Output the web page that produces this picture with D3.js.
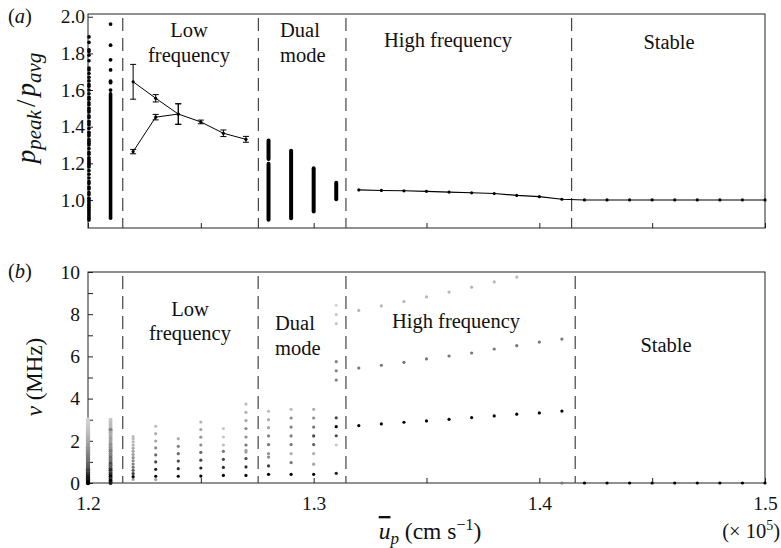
<!DOCTYPE html>
<html lang="en">
<head>
<meta charset="UTF-8">
<title>Peak pressure ratio and frequency regimes</title>
<script src="https://d3js.org/d3.v7.min.js"></script>
</head>
<body style="margin:0; background:#fff;">
<div id="chart"></div>
<script>
// x axis: mean velocity (x 10^5 cm/s)
var xTicks = [1.2, 1.25, 1.3, 1.35, 1.4, 1.45, 1.5];
var xLabels = [1.2, 1.3, 1.4, 1.5];
var boundsA = [1.2154, 1.2755, 1.3143, 1.4143];
var boundsB = [1.2154, 1.2754, 1.3143, 1.4159];

// ---- panel (a): p_peak / p_avg ----
var yTicksA = [1.0, 1.2, 1.4, 1.6, 1.8, 2.0];
var scatter120 = [0.89, 0.90, 0.91, 0.92, 0.93, 0.94, 0.95, 0.96, 0.97, 0.98, 0.99, 1.00, 1.01, 1.03, 1.04,
  1.06, 1.07, 1.09, 1.10, 1.12, 1.14, 1.16, 1.18, 1.19, 1.20, 1.21, 1.22, 1.23, 1.25, 1.26, 1.28,
  1.30, 1.31, 1.32, 1.33, 1.35, 1.36, 1.37, 1.39, 1.41, 1.42, 1.43, 1.45, 1.46, 1.48, 1.49, 1.50,
  1.52, 1.53, 1.55, 1.56, 1.58, 1.60, 1.62, 1.63, 1.65, 1.67, 1.69, 1.71, 1.72, 1.76, 1.79, 1.81,
  1.82, 1.86, 1.89];
var sparse121 = [1.96, 1.845, 1.765, 1.71, 1.648, 1.64, 1.60];
// dense sample bands: [x, low, high]
var bandsA = [[1.21, 0.90, 1.58], [1.28, 0.892, 1.197], [1.28, 1.224, 1.325],
  [1.29, 0.90, 1.268], [1.30, 0.937, 1.173], [1.31, 1.004, 1.094]];
var upperX = [1.22, 1.23, 1.24, 1.25, 1.26, 1.27];
var upperY = [1.645, 1.555, 1.469, 1.426, 1.364, 1.331];
var upperErr = [0.095, 0.02, 0.056, 0.01, 0.018, 0.016];
var lowerX = [1.22, 1.23, 1.24];
var lowerY = [1.264, 1.452, 1.469];
var lowerErr = [0.012, 0.015, 0.056];
var highX = [1.32, 1.33, 1.34, 1.35, 1.36, 1.37, 1.38, 1.39, 1.40, 1.41,
  1.42, 1.43, 1.44, 1.45, 1.46, 1.47, 1.48, 1.49, 1.50];
var highY = [1.055, 1.052, 1.05, 1.047, 1.043, 1.039, 1.035, 1.025, 1.018, 1.004,
  1.0, 1.0, 1.0, 1.0, 1.0, 1.0, 1.0, 1.0, 1.0];

// ---- panel (b): frequency spectrum peaks, [frequency MHz, darkness 0..1] ----
var yTicksB = [0, 2, 4, 6, 8, 10];
var dense120 = [[0.0, 1], [0.05, 0.95], [0.1, 0.9], [0.15, 0.85], [0.2, 0.95], [0.3, 0.85], [0.4, 0.8],
  [0.5, 0.7], [0.6, 0.72], [0.7, 0.62], [0.8, 0.6], [0.9, 0.58], [1.0, 0.52], [1.1, 0.5], [1.2, 0.48],
  [1.3, 0.45], [1.4, 0.44], [1.5, 0.4], [1.6, 0.38], [1.7, 0.35], [1.8, 0.33], [1.9, 0.3], [2.0, 0.28],
  [2.1, 0.25], [2.2, 0.24], [2.3, 0.2], [2.4, 0.19], [2.5, 0.17], [2.6, 0.15], [2.7, 0.14], [2.8, 0.12],
  [2.9, 0.11], [3.0, 0.1]];
var dense121 = [[0.0, 0.9], [0.1, 1], [0.2, 0.8], [0.3, 1], [0.4, 0.85], [0.5, 0.7], [0.6, 0.85],
  [0.7, 0.65], [0.8, 0.6], [0.9, 0.7], [1.0, 0.55], [1.1, 0.5], [1.2, 0.55], [1.3, 0.45], [1.4, 0.42],
  [1.5, 0.48], [1.6, 0.4], [1.7, 0.36], [1.8, 0.4], [1.9, 0.32], [2.0, 0.3], [2.1, 0.33], [2.2, 0.27],
  [2.3, 0.25], [2.4, 0.28], [2.5, 0.5], [2.6, 0.22], [2.7, 0.2], [2.8, 0.2], [2.9, 0.18], [3.0, 0.15]];
var colX = [1.22, 1.23, 1.24, 1.25, 1.26, 1.27, 1.28, 1.29, 1.30, 1.31];
var colPeaks = [
  [[0.17, 0.3], [0.3, 1], [0.45, 0.75], [0.6, 0.6], [0.75, 0.5], [0.9, 0.45], [1.05, 0.4], [1.2, 0.38],
   [1.35, 0.33], [1.5, 0.3], [1.65, 0.28], [1.8, 0.25], [1.95, 0.22], [2.1, 0.2], [2.2, 0.2]],
  [[0.16, 0.3], [0.32, 1], [0.65, 0.85], [1.0, 0.7], [1.33, 0.55], [1.66, 0.4], [1.99, 0.3], [2.34, 0.25], [2.69, 0.2]],
  [[0.32, 1], [0.68, 0.8], [1.04, 0.7], [1.39, 0.55], [1.74, 0.45], [2.10, 0.25]],
  [[0.33, 1], [0.71, 0.85], [1.08, 0.7], [1.45, 0.55], [1.80, 0.4], [2.17, 0.35], [2.53, 0.3], [2.89, 0.25]],
  [[0.36, 1], [0.74, 0.8], [1.12, 0.7], [1.50, 0.5], [1.80, 0.2], [2.18, 0.15], [2.58, 0.15]],
  [[0.36, 1], [0.76, 0.8], [1.16, 0.7], [1.47, 0.35], [1.55, 0.3], [1.80, 0.5], [2.18, 0.4], [2.58, 0.4],
   [2.96, 0.3], [3.35, 0.25], [3.74, 0.2]],
  [[0.41, 1], [0.81, 0.75], [1.23, 0.4], [1.39, 0.35], [1.82, 0.5], [2.23, 0.45], [2.62, 0.3], [3.0, 0.25], [3.40, 0.2]],
  [[0.41, 1], [0.97, 0.5], [1.39, 0.25], [1.82, 0.5], [2.23, 0.45], [2.65, 0.45], [3.08, 0.4], [3.49, 0.2]],
  [[0.41, 1], [0.89, 0.3], [1.39, 0.25], [1.82, 0.6], [2.23, 0.7], [2.65, 0.5], [3.08, 0.4], [3.49, 0.25]],
  [[0.46, 0.85], [1.80, 0.15], [2.24, 0.7], [2.67, 1], [3.09, 0.7], [4.88, 0.45], [5.32, 0.45], [5.75, 0.45],
   [7.55, 0.15], [7.98, 0.15], [8.42, 0.1]]
];
var hfX = [1.32, 1.33, 1.34, 1.35, 1.36, 1.37, 1.38, 1.39, 1.40, 1.41];
var hfFund = [2.72, 2.80, 2.88, 2.94, 3.02, 3.10, 3.18, 3.26, 3.32, 3.41];
var hfSecond = [5.45, 5.58, 5.72, 5.88, 6.02, 6.16, 6.35, 6.51, 6.68, 6.82];
var hfThird = [8.18, 8.39, 8.60, 8.82, 9.05, 9.28, 9.53, 9.76];
var stableX = [1.41, 1.42, 1.43, 1.44, 1.45, 1.46, 1.47, 1.48, 1.49, 1.50];
var stableT = [0.5, 1, 1, 1, 1, 1, 1, 1, 1, 1];

var W = 781, H = 548;
var SERIF = "'Liberation Serif'";
var svg = d3.select("#chart").append("svg").attr("width", W).attr("height", H)
    .style("font-family", SERIF);

var x = d3.scaleLinear().domain([1.2, 1.5]).range([88, 765]);
var ya = d3.scaleLinear().domain([0.847, 2.015]).range([228, 14]);
var yb = d3.scaleLinear().domain([0, 10]).range([483, 272]);
var grey = d3.interpolateRgb("#ebebeb", "#000");

// every text gets the face set directly on it
function txt(parent) {
    return parent.append("text").style("font-family", SERIF).attr("fill", "#111");
}

function frame(y, bounds, dashOffset) {
    var g = svg.append("g");
    g.append("rect")
        .attr("x", x.range()[0]).attr("y", y.range()[1])
        .attr("width", x.range()[1] - x.range()[0])
        .attr("height", y.range()[0] - y.range()[1])
        .attr("fill", "none").attr("stroke", "#222").attr("stroke-width", 1);
    g.selectAll("line.bound").data(bounds).enter().append("line")
        .attr("class", "bound")
        .attr("x1", d => x(d)).attr("x2", d => x(d))
        .attr("y1", y.range()[1]).attr("y2", y.range()[0])
        .attr("stroke", "#444").attr("stroke-width", 1.2)
        .attr("stroke-dasharray", "13,7").attr("stroke-dashoffset", dashOffset);
    return g;
}

function plainAxis(g) {
    g.attr("font-family", null).attr("font-size", null);
    g.select(".domain").remove();
    g.selectAll(".tick line").attr("stroke", "#222");
    g.selectAll(".tick text").style("font-family", SERIF).style("font-size", "19.5px").attr("fill", "#111");
}

// ----- panel (a) -----
var ga = frame(ya, boundsA, -4);

ga.append("g").attr("transform", "translate(0,228)")
    .call(d3.axisBottom(x).tickValues(xTicks).tickSize(-5).tickFormat(""))
    .call(plainAxis);
ga.append("g").attr("transform", "translate(88,0)")
    .call(d3.axisLeft(ya).tickValues(yTicksA).tickSize(-5).tickPadding(3).tickFormat(d3.format(".1f")))
    .call(plainAxis);

ga.selectAll("circle.s120").data(scatter120).enter().append("circle")
    .attr("cx", x(1.2) + 1).attr("cy", d => ya(d)).attr("r", 1.8).attr("fill", "#000");
ga.selectAll("circle.s121").data(sparse121).enter().append("circle")
    .attr("cx", x(1.21)).attr("cy", d => ya(d)).attr("r", 1.9).attr("fill", "#000");
ga.selectAll("line.band").data(bandsA).enter().append("line")
    .attr("x1", d => x(d[0])).attr("x2", d => x(d[0]))
    .attr("y1", d => ya(d[1])).attr("y2", d => ya(d[2]))
    .attr("stroke", "#000").attr("stroke-width", d => d[0] === 1.21 ? 3.6 : 4)
    .attr("stroke-linecap", "round");

function errSeries(xs, ys, es) {
    var pts = xs.map((v, i) => ({x: v, y: ys[i], e: es[i]}));
    ga.append("path").datum(pts)
        .attr("d", d3.line().x(d => x(d.x)).y(d => ya(d.y)))
        .attr("fill", "none").attr("stroke", "#000").attr("stroke-width", 1);
    var eb = ga.selectAll(null).data(pts).enter().append("g");
    eb.append("line")
        .attr("x1", d => x(d.x)).attr("x2", d => x(d.x))
        .attr("y1", d => ya(d.y - d.e)).attr("y2", d => ya(d.y + d.e))
        .attr("stroke", "#000").attr("stroke-width", 1);
    [-1, 1].forEach(function (s) {
        eb.append("line")
            .attr("x1", d => x(d.x) - 3).attr("x2", d => x(d.x) + 3)
            .attr("y1", d => ya(d.y + s * d.e)).attr("y2", d => ya(d.y + s * d.e))
            .attr("stroke", "#000").attr("stroke-width", 1);
    });
    eb.append("circle").attr("cx", d => x(d.x)).attr("cy", d => ya(d.y)).attr("r", 1.6).attr("fill", "#000");
}
errSeries(upperX, upperY, upperErr);
errSeries(lowerX, lowerY, lowerErr);

var hiPts = highX.map((v, i) => [v, highY[i]]);
ga.append("path").datum(hiPts)
    .attr("d", d3.line().x(d => x(d[0])).y(d => ya(d[1])))
    .attr("fill", "none").attr("stroke", "#000").attr("stroke-width", 1.1);
ga.selectAll("circle.hi").data(hiPts).enter().append("circle")
    .attr("cx", d => x(d[0])).attr("cy", d => ya(d[1])).attr("r", 1.6).attr("fill", "#000");

// ----- panel (b) -----
var gb = frame(yb, boundsB, -4);

var xb = gb.append("g").attr("transform", "translate(0,483)")
    .call(d3.axisBottom(x).tickValues(xTicks).tickSize(-5)
        .tickFormat(d => xLabels.some(v => Math.abs(v - d) < 1e-9) ? d3.format(".1f")(d) : ""))
    .call(plainAxis);
xb.selectAll("text").attr("dy", null).attr("y", 27);
gb.append("g").attr("transform", "translate(88,0)")
    .call(d3.axisLeft(yb).tickValues(d3.range(0, 11)).tickSize(-5).tickPadding(8)
        .tickFormat(d => yTicksB.indexOf(d) >= 0 ? d : ""))
    .call(plainAxis);

function peakDots(xv, peaks, r) {
    gb.selectAll(null).data(peaks).enter().append("circle")
        .attr("cx", x(xv)).attr("cy", d => yb(d[0])).attr("r", r)
        .attr("fill", d => grey(d[1]));
}
peakDots(1.2, dense120.slice().reverse(), 2.2);
peakDots(1.21, dense121.slice().reverse(), 2.0);
colX.forEach((v, i) => peakDots(v, colPeaks[i], 1.6));
gb.selectAll("circle.f1").data(hfX).enter().append("circle")
    .attr("cx", d => x(d)).attr("cy", (d, i) => yb(hfFund[i])).attr("r", 1.6).attr("fill", grey(1));
gb.selectAll("circle.f2").data(hfX).enter().append("circle")
    .attr("cx", d => x(d)).attr("cy", (d, i) => yb(hfSecond[i])).attr("r", 1.6).attr("fill", grey(0.5));
gb.selectAll("circle.f3").data(hfThird).enter().append("circle")
    .attr("cx", (d, i) => x(hfX[i])).attr("cy", d => yb(d)).attr("r", 1.6).attr("fill", grey(0.22));
gb.selectAll("circle.st").data(stableX).enter().append("circle")
    .attr("cx", d => x(d)).attr("cy", yb(0)).attr("r", 1.6).attr("fill", (d, i) => grey(stableT[i]));

// ----- region labels -----
function label(lines, cx, ys, anchor) {
    lines.forEach(function (t, i) {
        txt(svg).attr("x", cx).attr("y", ys[i])
            .style("font-size", "20.5px")
            .style("text-anchor", anchor || "middle").text(t);
    });
}
label(["Low", "frequency"], 189, [37, 62]);
label(["Dual", "mode"], 280, [37, 62], "start");
label(["High frequency"], 448, [47]);
label(["Stable"], 669, [49]);
label(["Low", "frequency"], 190, [316, 340]);
label(["Dual", "mode"], 275, [330, 355], "start");
label(["High frequency"], 456, [328]);
label(["Stable"], 666, [352]);

// ----- panel tags and axis titles -----
function tag(letter, y) {
    var t = txt(svg).attr("x", 8).attr("y", y).style("font-size", "20.5px");
    t.append("tspan").text("(");
    t.append("tspan").style("font-style", "italic").text(letter);
    t.append("tspan").text(")");
}
tag("a", 23);
tag("b", 278);

var ylabA = txt(svg)
    .attr("transform", "translate(35,108) rotate(-90)")
    .style("text-anchor", "middle").style("font-size", "27px").style("font-style", "italic");
ylabA.append("tspan").text("p");
ylabA.append("tspan").attr("dy", 6).style("font-size", "21px").text("peak");
ylabA.append("tspan").attr("dy", -6).attr("dx", 3).style("font-style", "normal").text("/");
ylabA.append("tspan").attr("dx", 3).text("p");
ylabA.append("tspan").attr("dy", 6).style("font-size", "21px").text("avg");

var ylabB = txt(svg)
    .attr("transform", "translate(42,377) rotate(-90)")
    .style("text-anchor", "middle").style("font-size", "23px");
ylabB.append("tspan").style("font-style", "italic").text("\u03BD");
ylabB.append("tspan").text(" (MHz)");

var xlab = txt(svg).attr("x", 430).attr("y", 539)
    .style("text-anchor", "middle").style("font-size", "23.5px");
xlab.append("tspan").style("font-style", "italic").style("text-decoration", "overline").text("u");
xlab.append("tspan").attr("dy", 5).style("font-size", "17px").style("font-style", "italic").text("p");
xlab.append("tspan").attr("dy", -5).text(" (cm s");
xlab.append("tspan").attr("dy", -9).style("font-size", "16px").text("\u22121");
xlab.append("tspan").attr("dy", 9).text(")");

var sci = txt(svg).attr("x", 780).attr("y", 538)
    .style("text-anchor", "end").style("font-size", "20.5px");
sci.append("tspan").text("(\u00D7 10");
sci.append("tspan").attr("dy", -8).style("font-size", "14px").text("5");
sci.append("tspan").attr("dy", 8).text(")");
</script>
</body>
</html>
